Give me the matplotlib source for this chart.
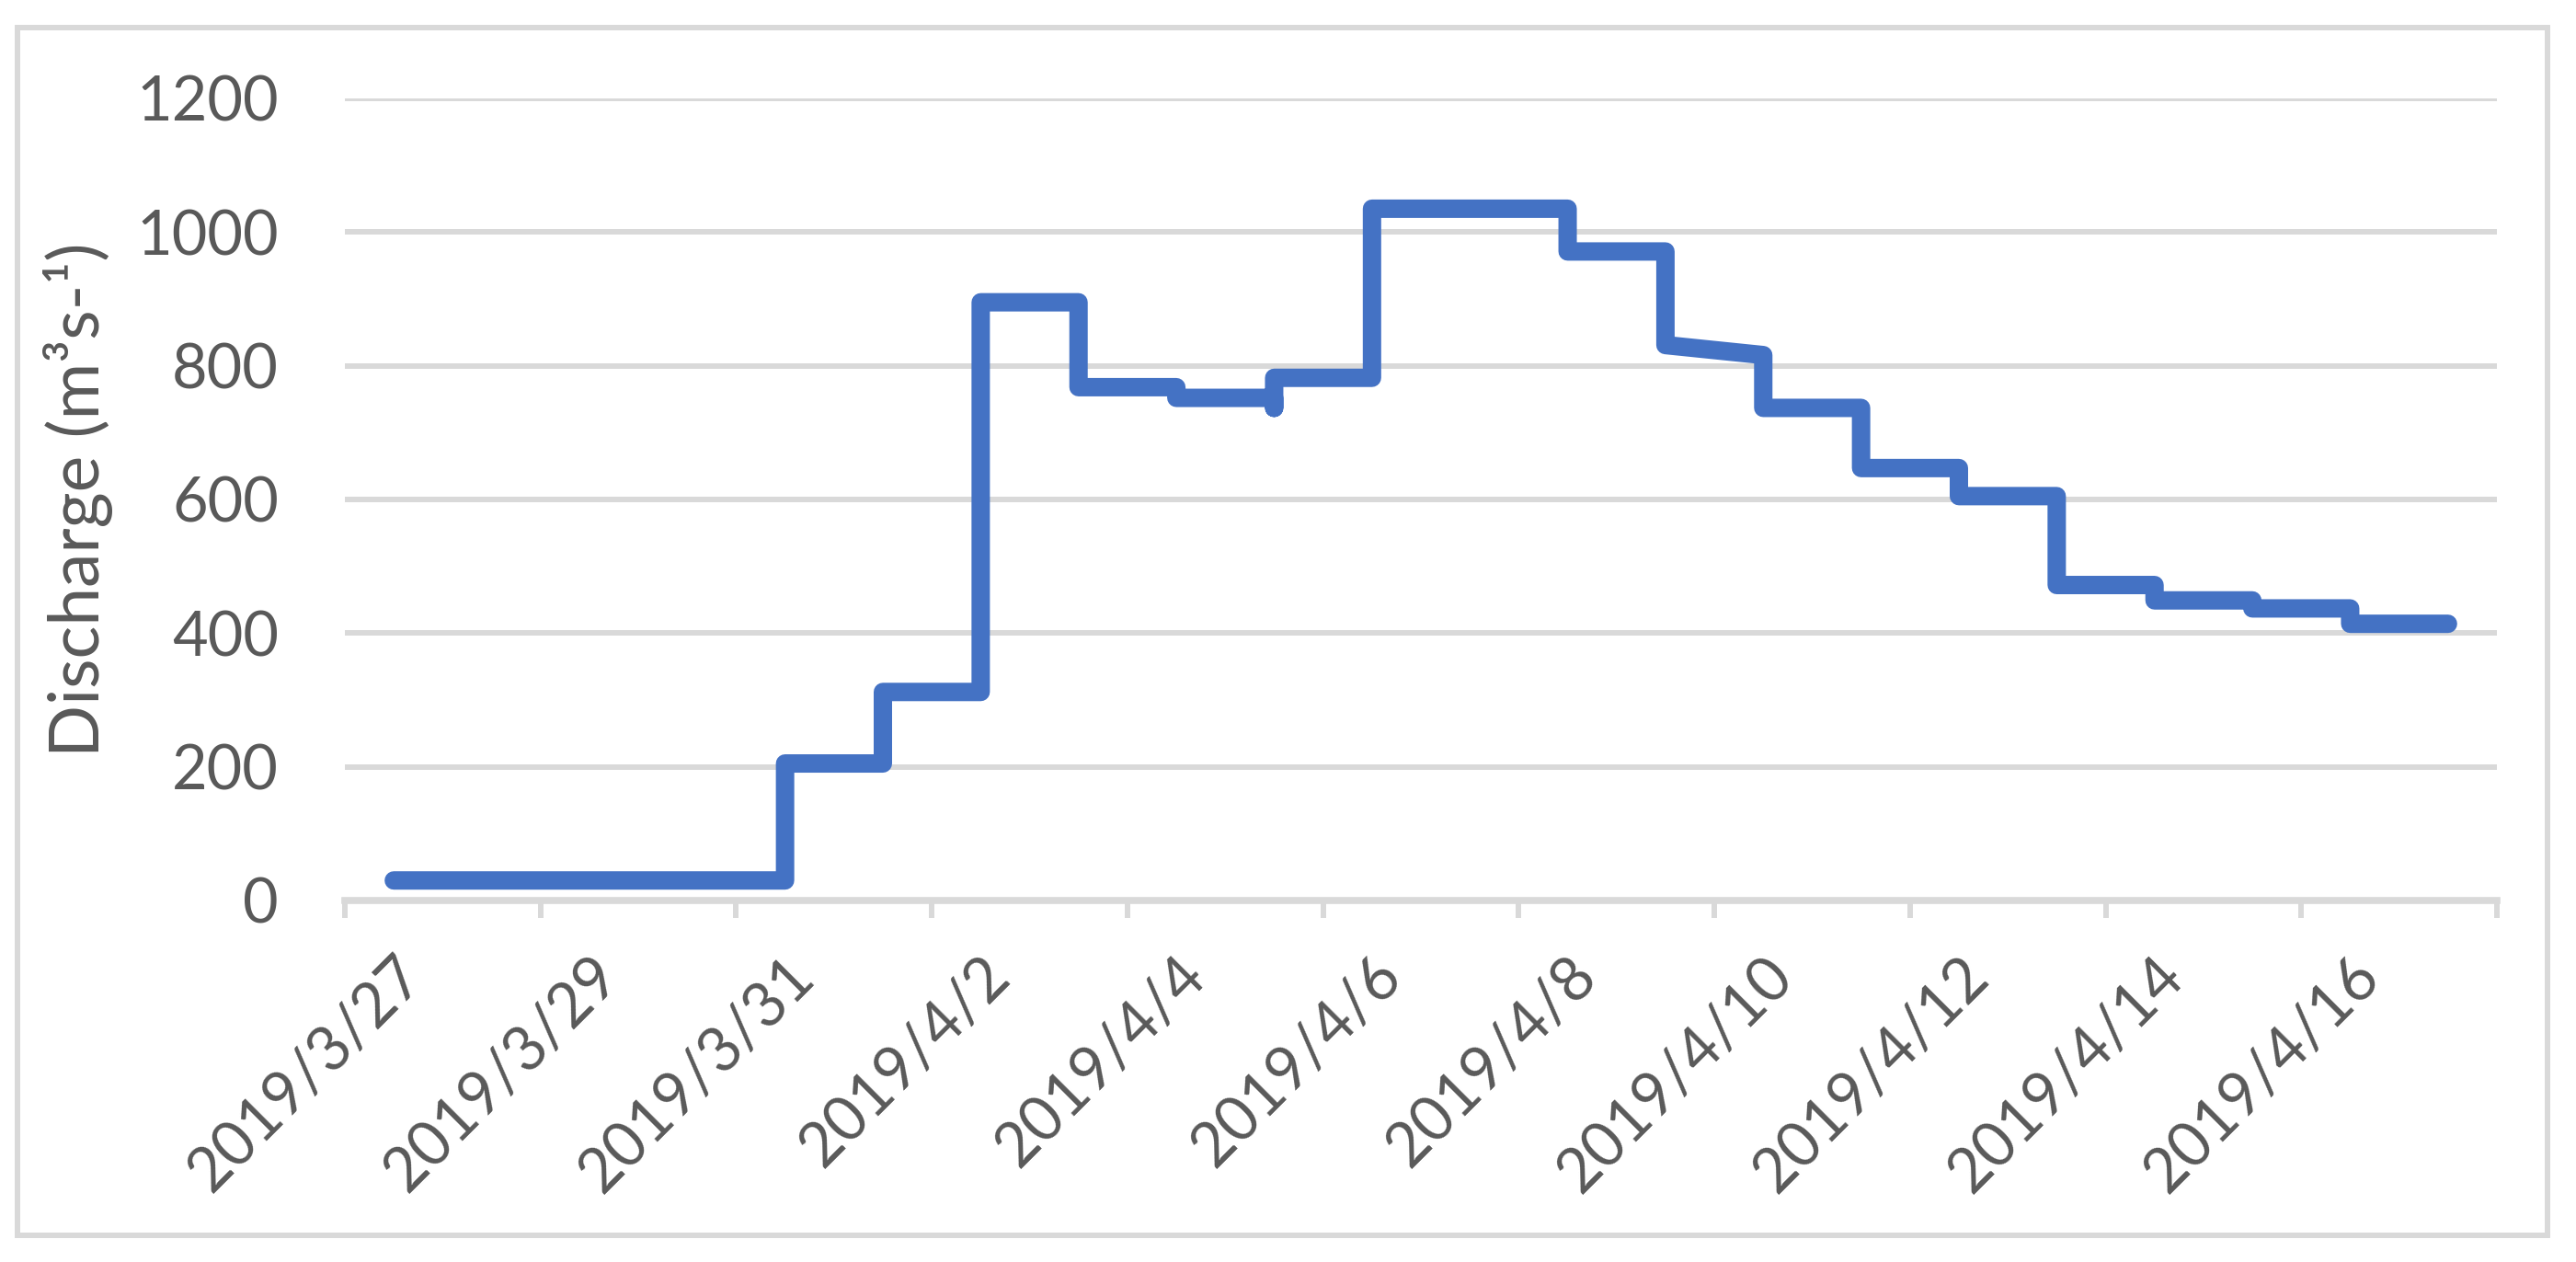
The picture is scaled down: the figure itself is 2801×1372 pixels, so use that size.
import matplotlib.pyplot as plt
from matplotlib.patches import Rectangle
import pandas as pd

# Daily discharge readings (several readings on one date draw a vertical jump)
obs_dates = ["2019-03-27", "2019-03-28", "2019-03-29", "2019-03-30",
             "2019-03-31", "2019-03-31", "2019-04-01", "2019-04-01",
             "2019-04-02", "2019-04-02", "2019-04-03", "2019-04-03",
             "2019-04-04", "2019-04-04", "2019-04-05", "2019-04-05", "2019-04-05",
             "2019-04-06", "2019-04-06", "2019-04-07", "2019-04-08", "2019-04-08",
             "2019-04-09", "2019-04-09", "2019-04-10", "2019-04-10",
             "2019-04-11", "2019-04-11", "2019-04-12", "2019-04-12",
             "2019-04-13", "2019-04-13", "2019-04-14", "2019-04-14",
             "2019-04-15", "2019-04-15", "2019-04-16", "2019-04-16", "2019-04-17"]
discharge = [30, 30, 30, 30,
             30, 205, 205, 312,
             312, 895, 895, 768,
             768, 752, 752, 737, 782,
             782, 1035, 1035, 1035, 971,
             971, 831, 816, 737,
             737, 647, 647, 605,
             605, 472, 472, 449,
             449, 437, 437, 414, 414]

start = pd.Timestamp("2019-03-27")
n_days = 22
all_days = pd.date_range(start, periods=n_days)
day_labels = [f"{d.year}/{d.month}/{d.day}" for d in all_days]
y_ticks = [0, 200, 400, 600, 800, 1000, 1200]

# Excel-like colours
blue = "#4472C4"
grey = "#D9D9D9"
txt = "#595959"

plt.rcParams["font.family"] = ["Lato", "DejaVu Sans"]

x = [(pd.Timestamp(d) - start).days for d in obs_dates]

W, H = 2801, 1372
fig = plt.figure(figsize=(W / 100, H / 100), dpi=100)
fig.patches.append(Rectangle((19 / W, 1 - 1343 / H), 2751 / W, 1313 / H,
                             transform=fig.transFigure, fill=False,
                             edgecolor=grey, linewidth=4.3))

ax = fig.add_axes([375 / W, 1 - 979 / H, 2340 / W, 872 / H])
ax.plot(x, discharge, color=blue, linewidth=14.4, solid_joinstyle="round",
        solid_capstyle="round", zorder=3)

ax.set_xlim(-0.5, n_days - 0.5)
ax.set_ylim(0, 1200)
ax.set_yticks(y_ticks)
ax.set_yticklabels([str(v) for v in y_ticks])
ax.grid(axis="y", color=grey, linewidth=4.3)
ax.set_axisbelow(True)

ax.set_xticks(range(0, n_days, 2))
ax.set_xticklabels(day_labels[::2], rotation=45, ha="right", va="top",
                   rotation_mode="anchor")
ax.set_xticks([i - 0.5 for i in range(0, n_days + 1, 2)], minor=True)
ax.tick_params(axis="x", which="major", length=0, pad=36, labelsize=48, colors=txt)
ax.tick_params(axis="x", which="minor", length=13.7, width=4.3, color=grey)
ax.tick_params(axis="y", length=0, pad=52, labelsize=48, colors=txt)

for s in ["top", "right", "left"]:
    ax.spines[s].set_visible(False)
ax.spines["bottom"].set_color(grey)
ax.spines["bottom"].set_linewidth(5.5)

ax.set_ylabel("Discharge (m³s-¹)", fontsize=54, color=txt, labelpad=18)

plt.savefig("out.png", dpi=100)
